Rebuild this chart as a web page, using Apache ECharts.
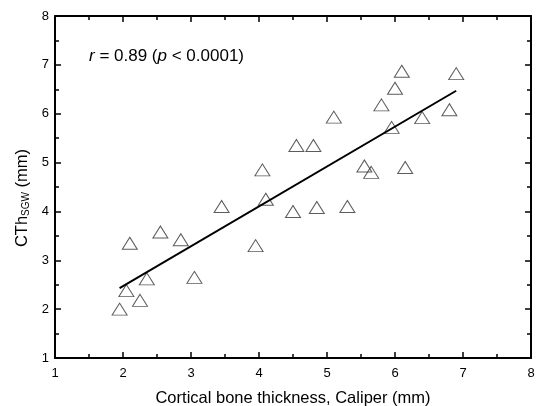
<!DOCTYPE html>
<html>
<head>
<meta charset="utf-8">
<script src="https://cdn.jsdelivr.net/npm/echarts@6/dist/echarts.min.js"></script>
<style>
  html, body { margin: 0; padding: 0; background: #fff; }
  #chart { width: 536px; height: 406px; }
</style>
</head>
<body>
<div id="chart"></div>
<script>
// caliper thickness (mm) vs CTh_SGW (mm)
var caliperX = [1.95, 2.05, 2.1, 2.25, 2.35, 2.55, 2.85, 3.05, 3.45, 3.95, 4.05, 4.1, 4.5, 4.55,
  4.8, 4.85, 5.3, 5.1, 5.55, 5.65, 5.8, 5.95, 6.0, 6.1, 6.15, 6.4, 6.8, 6.9];
var cthY = [2.0, 2.38, 3.35, 2.18, 2.62, 3.58, 3.42, 2.65, 4.1, 3.3, 4.85, 4.25, 4.0, 5.35,
  5.35, 4.08, 4.1, 5.93, 4.93, 4.8, 6.18, 5.72, 6.52, 6.87, 4.9, 5.92, 6.08, 6.82];
// fitted line end points
var fitX = [1.95, 6.9];
var fitY = [2.43, 6.47];

var font = "Liberation Sans, Arial, sans-serif";
var points = caliperX.map(function (x, i) { return [x, cthY[i]]; });
var fitLine = fitX.map(function (x, i) { return [x, fitY[i]]; });

function axisBase(pos, showLabel) {
  return {
    type: "value",
    position: pos,
    min: 1,
    max: 8,
    interval: 1,
    axisLine: { show: true, onZero: false, lineStyle: { color: "#000", width: 2 } },
    axisTick: { show: true, inside: true, length: 6, lineStyle: { color: "#000", width: 1.5 } },
    minorTick: { show: true, splitNumber: 2, length: 4, lineStyle: { color: "#000", width: 1.5 } },
    splitLine: { show: false },
    axisLabel: { show: showLabel, color: "#000", fontSize: 13, fontFamily: font },
  };
}

var xBottom = axisBase("bottom", true);
xBottom.axisLabel.margin = 9;
xBottom.name = "Cortical bone thickness, Caliper (mm)";
xBottom.nameLocation = "middle";
xBottom.nameGap = 32;
xBottom.nameTextStyle = { color: "#000", fontSize: 16.5, fontFamily: font };

var yLeft = axisBase("left", true);
yLeft.axisLabel.margin = 6;
yLeft.name = "{a|CTh}{s|SGW}{a| (mm)}";
yLeft.nameLocation = "middle";
yLeft.nameGap = 22;
yLeft.nameRotate = 90;
yLeft.nameTextStyle = {
  color: "#000",
  fontFamily: font,
  padding: [0, 22, 0, 0],
  rich: {
    a: { fontSize: 16.5, color: "#000", fontFamily: font },
    s: { fontSize: 10, color: "#000", fontFamily: font, verticalAlign: "bottom", padding: [6, 0, 0, 0] },
  },
};

var myChart = echarts.init(document.getElementById("chart"));
myChart.setOption({
  animation: false,
  grid: { left: 55, top: 16, right: 5, bottom: 48, containLabel: false, outerBoundsMode: "none" },
  xAxis: [xBottom, axisBase("top", false)],
  yAxis: [yLeft, axisBase("right", false)],
  graphic: [
    {
      type: "text",
      left: 89,
      top: 48,
      style: {
        text: "{i|r} = 0.89 ({i|p} < 0.0001)",
        font: "17px " + font,
        fill: "#000",
        rich: {
          i: { fontStyle: "italic", fontSize: 17, fontFamily: font, fill: "#000" },
        },
      },
    },
  ],
  series: [
    {
      type: "scatter",
      data: points,
      symbol: "triangle",
      symbolSize: [15, 12],
      itemStyle: { color: "rgba(255,255,255,0)", borderColor: "#333", borderWidth: 1 },
      z: 2,
    },
    {
      type: "line",
      data: fitLine,
      symbol: "none",
      lineStyle: { color: "#000", width: 2 },
      z: 3,
    },
  ],
});
</script>
</body>
</html>
